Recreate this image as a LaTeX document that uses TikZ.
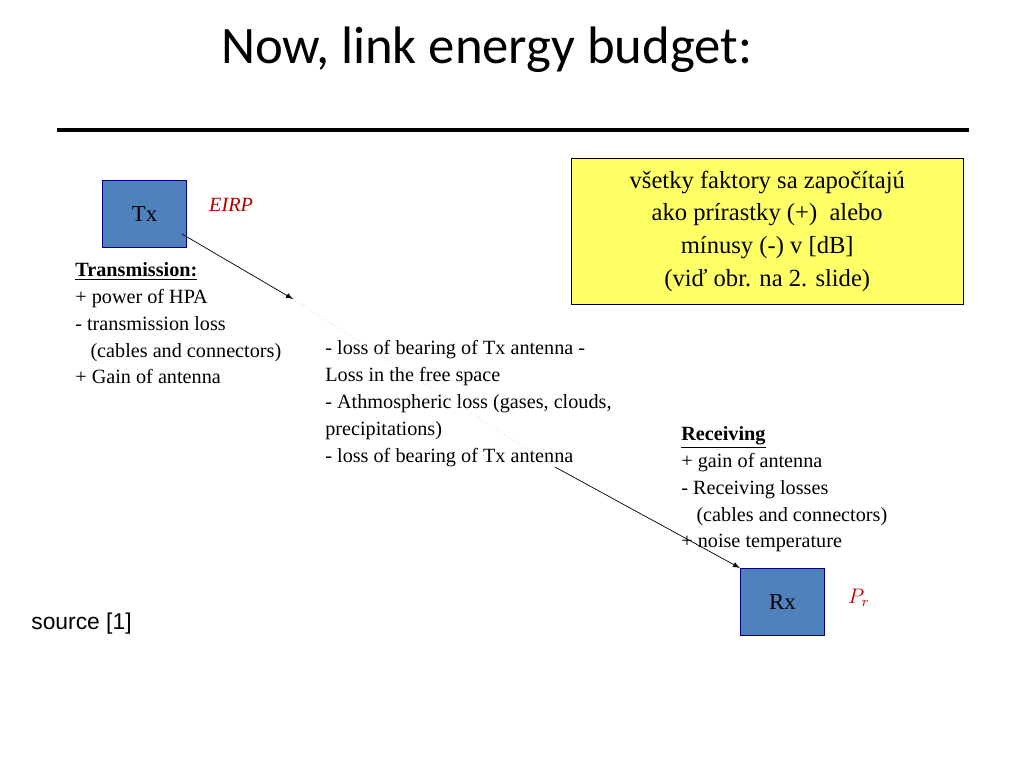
\documentclass[tikz,border=0pt]{standalone}
\usepackage{fontspec}
\setmainfont{Liberation Serif}
\newfontfamily\titlefont{Carlito}
\newfontfamily\srcfont{Liberation Sans}
\usetikzlibrary{positioning,arrows}

\begin{document}
\begin{tikzpicture}[x=0.02cm,y=-0.02cm,
		station/.style={draw=blue!50!black, fill={rgb,255:red,79;green,129;blue,189}, minimum width=48pt, minimum height=38pt, font=\fontsize{13}{15}\selectfont},
		note/.style={align=left, anchor=north west, inner sep=0pt, font=\fontsize{11.5}{15.3}\selectfont},
		link/.style={-latex, black, thin}]
		\useasboundingbox (0,0) rectangle (1024,768);

		\node[font=\titlefont\fontsize{30}{34}\selectfont, anchor=west] (title) at (215,50) {Now, link energy budget:};
		\draw[line width=2pt] (57,130) -- (969,130);

		% yellow remark
		\node[draw, fill={rgb,255:red,255;green,255;blue,102}, minimum width=223pt, minimum height=83pt, anchor=north west, align=center, font=\fontsize{14}{18.7}\selectfont] (remark) at (571,158)
			{v\v{s}etky faktory sa zapo\v{c}\'itaj\'u\\ ako pr\'irastky (+)\ \ alebo\\ m\'inusy (-) v [dB]\\ (vi\v{d} obr. na 2. slide)};

		% stations
		\node[station, anchor=north west] (tx) at (102,180) {Tx};
		\node[station, anchor=north west] (rx) at (740,568) {Rx};
		\node[red!70!black, font=\itshape\fontsize{11.5}{14}\selectfont, anchor=west] (eirp) at (203,205) {EIRP};
		\node[red!70!black, font=\itshape\fontsize{11.5}{14}\selectfont, anchor=west] (pr) at (842,598) {$P_r$};

		% texts
		\node[note] (trans) at (75,262) {\textbf{\underline{Transmission:}}\\ + power of HPA\\ - transmission loss\\ \ \ \ (cables and connectors)\\ + Gain of antenna};
		\node[note] (path) at (325,340) {- loss of bearing of Tx antenna -\\ Loss in the free space\\ - Athmospheric loss (gases, clouds,\\ precipitations)\\ - loss of bearing of Tx antenna};
		\node[note] (recv) at (681,426) {\textbf{\underline{Receiving}}\\ + gain of antenna\\ - Receiving losses\\ \ \ \ (cables and connectors)\\ + noise temperature};
		\node[font=\srcfont\fontsize{13}{15}\selectfont, anchor=west, inner sep=0pt] (src) at (31,624) {source [1]};

		% path of the link
		\coordinate (txout) at (182,234);
		\coordinate (midA) at (293,299);
		\coordinate (midB) at (555,467);
		\draw[link] (txout) -- (midA);
		\draw[black!15, densely dotted] (midA) -- (midB);
		\draw[link] (midB) -- (rx.north west);
	\end{tikzpicture}
\end{document}
